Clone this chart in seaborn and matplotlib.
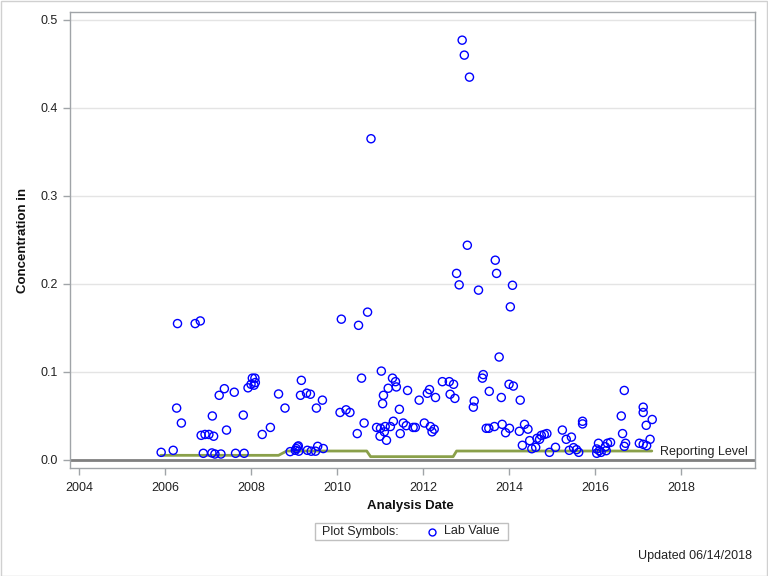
import matplotlib
matplotlib.use("Agg")
import matplotlib.pyplot as plt
from matplotlib.lines import Line2D
from matplotlib.patches import Rectangle
import seaborn as sns
import pandas as pd

# ---- data (decimal year, concentration) ----
lab_year = [2005.91, 2006.19, 2006.27, 2006.29, 2006.38, 2006.70, 2006.82, 2006.84, 2006.89, 2006.93,
            2007.02, 2007.09, 2007.10, 2007.13, 2007.16, 2007.26, 2007.30, 2007.38, 2007.43, 2007.61,
            2007.64, 2007.82, 2007.84, 2007.93, 2008.00, 2008.03, 2008.07, 2008.09, 2008.10, 2008.26,
            2008.45, 2008.64, 2008.79, 2008.91, 2009.03, 2009.05, 2009.08, 2009.10, 2009.11, 2009.15,
            2009.17, 2009.29, 2009.31, 2009.38, 2009.40, 2009.50, 2009.52, 2009.55, 2009.66, 2009.68,
            2010.07, 2010.10, 2010.21, 2010.30, 2010.47, 2010.50, 2010.57, 2010.63, 2010.71, 2010.79,
            2010.92, 2011.00, 2011.01, 2011.03, 2011.06, 2011.08, 2011.10, 2011.12, 2011.15, 2011.19,
            2011.24, 2011.29, 2011.31, 2011.36, 2011.38, 2011.45, 2011.47, 2011.54, 2011.61, 2011.64,
            2011.77, 2011.82, 2011.91, 2012.03, 2012.10, 2012.15, 2012.17, 2012.21, 2012.26, 2012.29,
            2012.45, 2012.61, 2012.63, 2012.71, 2012.74, 2012.78, 2012.84, 2012.91, 2012.96, 2013.03,
            2013.08, 2013.17, 2013.19, 2013.29, 2013.38, 2013.40, 2013.47, 2013.53, 2013.54, 2013.66,
            2013.68, 2013.71, 2013.77, 2013.82, 2013.84, 2013.92, 2014.00, 2014.01, 2014.03, 2014.08,
            2014.10, 2014.24, 2014.26, 2014.31, 2014.36, 2014.44, 2014.48, 2014.53, 2014.62, 2014.65,
            2014.71, 2014.75, 2014.82, 2014.88, 2014.94, 2015.08, 2015.24, 2015.33, 2015.40, 2015.45,
            2015.50, 2015.57, 2015.62, 2015.71, 2015.71, 2016.04, 2016.04, 2016.08, 2016.10, 2016.14,
            2016.24, 2016.26, 2016.29, 2016.36, 2016.61, 2016.64, 2016.68, 2016.68, 2016.71, 2017.03,
            2017.12, 2017.12, 2017.12, 2017.19, 2017.20, 2017.28, 2017.33]
lab_value = [0.0087, 0.011, 0.059, 0.155, 0.042, 0.155, 0.158, 0.028, 0.0076, 0.029,
             0.029, 0.008, 0.050, 0.027, 0.0068, 0.0735, 0.0068, 0.081, 0.034, 0.077,
             0.0076, 0.051, 0.0076, 0.082, 0.086, 0.093, 0.085, 0.093, 0.088, 0.029,
             0.037, 0.075, 0.059, 0.0095, 0.011, 0.013, 0.015, 0.016, 0.010, 0.0735,
             0.0905, 0.076, 0.011, 0.0747, 0.010, 0.010, 0.059, 0.0155, 0.068, 0.013,
             0.054, 0.160, 0.057, 0.054, 0.030, 0.153, 0.093, 0.042, 0.168, 0.365,
             0.037, 0.027, 0.036, 0.101, 0.064, 0.0735, 0.032, 0.038, 0.0224, 0.0815,
             0.038, 0.093, 0.044, 0.089, 0.083, 0.0576, 0.030, 0.042, 0.039, 0.079,
             0.037, 0.037, 0.068, 0.042, 0.0758, 0.080, 0.038, 0.032, 0.035, 0.071,
             0.089, 0.089, 0.0747, 0.086, 0.070, 0.212, 0.199, 0.477, 0.460, 0.244,
             0.435, 0.060, 0.067, 0.193, 0.093, 0.097, 0.036, 0.036, 0.078, 0.038,
             0.227, 0.212, 0.117, 0.071, 0.0405, 0.031, 0.086, 0.036, 0.174, 0.1985,
             0.084, 0.0326, 0.068, 0.0167, 0.0405, 0.035, 0.022, 0.0128, 0.0144, 0.0246,
             0.0235, 0.028, 0.029, 0.030, 0.0087, 0.0144, 0.034, 0.0235, 0.011, 0.026,
             0.014, 0.0117, 0.0087, 0.044, 0.041, 0.0076, 0.0125, 0.019, 0.0106, 0.0087,
             0.015, 0.0106, 0.019, 0.020, 0.050, 0.030, 0.079, 0.0155, 0.019, 0.019,
             0.060, 0.054, 0.0178, 0.0394, 0.0163, 0.0235, 0.046]

rl_year = [2005.9, 2008.64, 2008.83, 2010.69, 2010.78, 2012.70, 2012.78, 2017.32]
rl_value = [0.0053, 0.0053, 0.0102, 0.0102, 0.0038, 0.0038, 0.0102, 0.0102]

x_ticks = [2004, 2006, 2008, 2010, 2012, 2014, 2016, 2018]
y_ticks = [0.0, 0.1, 0.2, 0.3, 0.4, 0.5]

df = pd.DataFrame({"year": lab_year, "value": lab_value})
rl = pd.DataFrame({"year": rl_year, "value": rl_value})

sns.set_theme(style="white")
plt.rcParams["font.family"] = ["Liberation Sans", "DejaVu Sans"]

fig = plt.figure(figsize=(7.68, 5.76), dpi=100)
ax = fig.add_axes([70 / 768, 1 - 468 / 576, 685 / 768, 456 / 576])

frame_col = "#a0a4a8"
for sp in ax.spines.values():
    sp.set_color(frame_col)
    sp.set_linewidth(1.0)

ax.set_xlim(2003.79, 2019.72)
ax.set_ylim(-0.0091, 0.509)
ax.set_xticks(x_ticks)
ax.set_yticks(y_ticks)
ax.set_xticklabels([str(t) for t in x_ticks])
ax.set_yticklabels([f"{t:.1f}" for t in y_ticks])
ax.tick_params(axis="both", which="major", direction="out", length=5, width=1,
               color=frame_col, labelsize=9, labelcolor="#222222", pad=3,
               bottom=True, left=True)
ax.tick_params(axis="x", pad=5)
ax.tick_params(axis="y", pad=4)

for t in y_ticks[1:]:
    ax.axhline(t, color="#e4e4e4", lw=1.0, zorder=0)
ax.axhline(0.0, color="#808080", lw=2.0, zorder=1)

sns.lineplot(data=rl, x="year", y="value", ax=ax, color="#8aa04a", lw=2.0,
             estimator=None, sort=False, zorder=2)
ax.text(rl_year[-1] + 0.2, rl_value[-1] - 0.0012, "Reporting Level", fontsize=9,
        va="center", ha="left", color="#222222")

sns.scatterplot(data=df, x="year", y="value", ax=ax, marker="o", s=34,
                facecolors="none", edgecolor="#0000ff", linewidth=1.0, zorder=3)

ax.set_xlabel("Analysis Date", fontsize=9.5, fontweight="bold", color="#111111")
ax.set_ylabel("Concentration in", fontsize=9.5, fontweight="bold", color="#111111")
ax.xaxis.set_label_coords(0.497, -0.07)
ax.yaxis.set_label_coords(-0.060, 0.5)

# legend box
fig.patches.append(Rectangle((315 / 768, 1 - 540 / 576), 193 / 768, 17 / 576,
                             transform=fig.transFigure, fill=False,
                             edgecolor="#c0c0c0", lw=1.0))
fig.text(322 / 768, 1 - 531.5 / 576, "Plot Symbols:", fontsize=9, va="center",
         ha="left", color="#222222")
fig.add_artist(Line2D([432 / 768], [1 - 531.5 / 576], transform=fig.transFigure,
                      marker="o", markersize=5, markerfacecolor="none",
                      markeredgecolor="#0000ff", markeredgewidth=1.0, linestyle="none"))
fig.text(444 / 768, 1 - 531.5 / 576, "Lab Value", fontsize=9, va="center",
         ha="left", color="#222222")

fig.text(752 / 768, 1 - 556 / 576, "Updated 06/14/2018", fontsize=9, va="center",
         ha="right", color="#222222")

# outer border
fig.patches.append(Rectangle((0.5 / 768, 0.5 / 576), 766.5 / 768, 574.5 / 576,
                             transform=fig.transFigure, fill=False,
                             edgecolor="#d0d0d0", lw=1.0))

fig.savefig("out.png", dpi=100)
